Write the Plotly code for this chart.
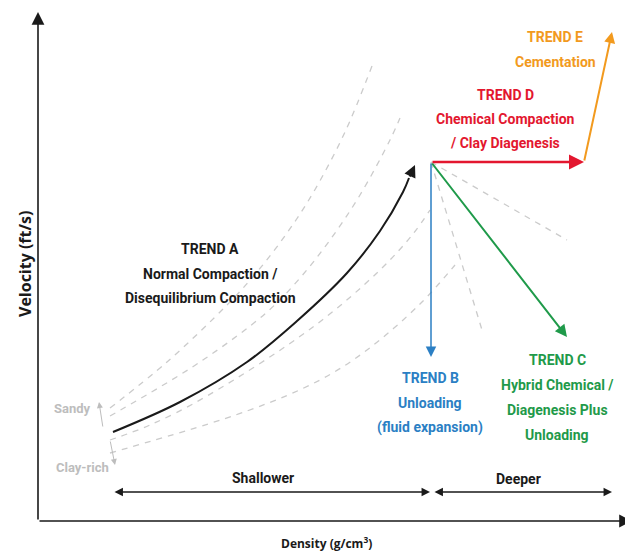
import plotly.graph_objects as go

# ---- data (diagram units: density -> x, velocity -> y, screen-like scale) ----
trendA_x = [113, 180, 247, 297, 347, 380, 403, 409, 415]
trendA_y = [432, 402, 362, 321, 273, 231, 192, 178, 165]

dash1_x = [110, 167, 227, 257, 287, 313, 345, 372]
dash1_y = [408, 362, 305, 272, 233, 193, 132, 66]
dash2_x = [110, 200, 267, 300, 330, 360, 390, 400]
dash2_y = [416, 362, 312, 278, 240, 195, 140, 118]
dash3_x = [110, 150, 207, 313, 380, 413, 430]
dash3_y = [440, 425, 396, 327, 270, 234, 210]
dash4_x = [110, 247, 320, 367, 420, 455]
dash4_y = [453, 411, 380, 350, 304, 265]
radial1_x = [431, 567]
radial1_y = [162, 240]
radial2_x = [431, 482]
radial2_y = [162, 330]

node = (431, 162)
trendB_end = (431, 357)
trendC_end = (567, 337)
trendD_end = (584, 162)
trendE_end = (612, 32)

origin = (38, 521)
x_axis_end = (632, 521)
y_axis_end = (38, 12)

shallow_range = (113, 430)
deep_range = (433, 612)
depth_y = 492

label_A = ["TREND A", "Normal Compaction /", "Disequilibrium Compaction"]
label_B = ["TREND B", "Unloading", "(fluid expansion)"]
label_C = ["TREND C", "Hybrid Chemical /", "Diagenesis Plus", "Unloading"]
label_D = ["TREND D", "Chemical Compaction", "/ Clay Diagenesis"]
label_E = ["TREND E", "Cementation"]

BLACK = "#1a1a1a"
GRAY = "#cbcbcb"
RED = "#e3172f"
ORANGE = "#f29a1e"
BLUE = "#2b7fc4"
GREEN = "#1f9a4a"
LGRAY = "#bdbdbd"

LABEL_FONT = "Roboto, sans-serif"
PAGE_MARGIN = 8  # browser default body margin

fig = go.Figure()

for xs, ys in [(dash1_x, dash1_y), (dash2_x, dash2_y), (dash3_x, dash3_y),
               (dash4_x, dash4_y), (radial1_x, radial1_y), (radial2_x, radial2_y)]:
    fig.add_trace(go.Scatter(x=xs, y=ys, mode="lines",
                             line=dict(color=GRAY, width=1.3, dash="6px,6px", shape="spline"),
                             hoverinfo="skip", showlegend=False))

fig.add_trace(go.Scatter(x=trendA_x[:-1], y=trendA_y[:-1], mode="lines",
                         line=dict(color=BLACK, width=2, shape="spline"),
                         hoverinfo="skip", showlegend=False))

annotations = []

def arrow(tail, head, color, width, size=1.2, head_style=2, side="end"):
    annotations.append(dict(x=head[0], y=head[1], ax=tail[0], ay=tail[1],
                            xref="x", yref="y", axref="x", ayref="y",
                            text="", showarrow=True, arrowhead=head_style,
                            arrowsize=size, arrowwidth=width, arrowcolor=color,
                            arrowside=side, standoff=0, startstandoff=0))

# axes
arrow(origin, x_axis_end, BLACK, 1.6, size=1.6, head_style=2)
arrow(origin, y_axis_end, BLACK, 1.6, size=1.6, head_style=2)

# trend arrows
arrow((trendA_x[-2], trendA_y[-2]), (trendA_x[-1], trendA_y[-1]), BLACK, 2, size=1.2)
arrow(node, trendB_end, BLUE, 1.5, size=1.4)
arrow(node, trendC_end, GREEN, 2, size=1.2)
arrow(node, trendD_end, RED, 2.5, size=1.2)
arrow(trendD_end, trendE_end, ORANGE, 2, size=1.1)

# depth arrows
arrow((shallow_range[0], depth_y), (shallow_range[1], depth_y), BLACK, 1.3, size=1.3, side="end+start")
arrow((deep_range[0], depth_y), (deep_range[1], depth_y), BLACK, 1.3, size=1.3, side="end+start")

# sandy / clay-rich small arrows
arrow((103, 428), (99, 402), LGRAY, 1, size=1.2)
arrow((110, 440), (115, 465), LGRAY, 1, size=1.2)

def label(x, y, text, color, size=14, family=LABEL_FONT, **kw):
    annotations.append(dict(x=x, y=y, xref="x", yref="y", text=text, showarrow=False,
                            font=dict(family=family, size=size, color=color),
                            xanchor="center", yanchor="middle", **kw))

def block(x, y0, lines, color, step=24.5, size=14):
    for i, t in enumerate(lines):
        label(x, y0 + i * step, "<b>" + t + "</b>", color, size=size)

block(210, 249, label_A, BLACK)
block(430, 378, label_B, BLUE)
block(557, 360, label_C, GREEN, step=25)
block(505, 95, label_D, RED, step=24)
block(555, 37, label_E, ORANGE, step=25)

label(72, 408, "<b>Sandy</b>", LGRAY, size=13)
label(82, 467, "<b>Clay-rich</b>", LGRAY, size=13)
label(263, 478, "<b>Shallower</b>", BLACK, size=14)
label(518, 479, "<b>Deeper</b>", BLACK, size=14)

label(326, 543, "<b>Density (g/cm<sup>3</sup>)</b>", BLACK, size=12, family="Open Sans, sans-serif")
label(25, 264, "<b>Velocity (ft/s)</b>", BLACK, size=16, family="Open Sans, sans-serif", textangle=-90)

fig.update_layout(
    width=633 - PAGE_MARGIN, height=553 - PAGE_MARGIN,
    margin=dict(l=0, r=0, t=0, b=0),
    paper_bgcolor="white", plot_bgcolor="white",
    xaxis=dict(range=[PAGE_MARGIN, 633], visible=False, fixedrange=True),
    yaxis=dict(range=[553, PAGE_MARGIN], visible=False, fixedrange=True),
    annotations=annotations,
    showlegend=False,
)

fig.write_html("out.html")
